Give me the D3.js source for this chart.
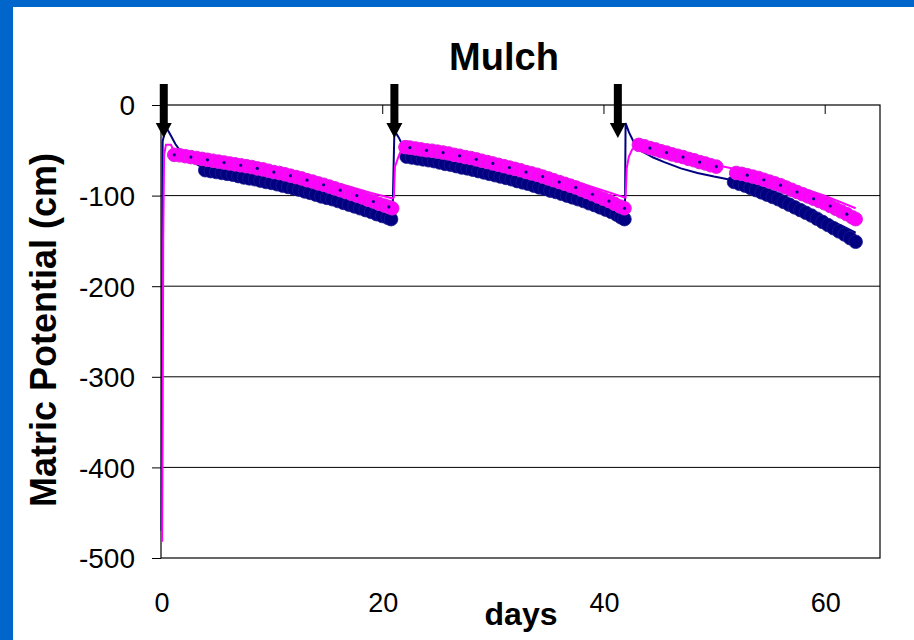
<!DOCTYPE html>
<html>
<head>
<meta charset="utf-8">
<script src="https://cdn.jsdelivr.net/npm/d3@7"></script>
<style>
  html, body { margin: 0; padding: 0; background: #fff; }
  svg { display: block; }
  text { font-family: "Liberation Sans", Arial, sans-serif; fill: #000; }
</style>
</head>
<body>
<svg id="chart" width="914" height="640"></svg>
<script>
// ---- data: matric potential (cm) against days, two sensors ----
const title = "Mulch";
const xLabel = "days";
const yLabel = "Matric Potential (cm)";
const xTicks = [0, 20, 40, 60];
const yTicks = [0, -100, -200, -300, -400, -500];
const irrigationDays = [0.25, 21.1, 41.3];

// continuous logger trace, navy sensor
const navyTrace = [
  [0.05,-470],[0.1,-250],[0.15,-40],[0.45,-24],[0.9,-34],[1.3,-43],[1.7,-50],[2.5,-58],[3.3,-66],
  [4,-71],[6,-75],[8,-80],[10,-85],[12,-91],[14,-98],[16,-105],[18,-113],[20.8,-125],
  [20.95,-110],[21.1,-28],[21.5,-36],[21.9,-46],[22.3,-55],[24.6,-61],[27.6,-69],[30.6,-78],
  [33.6,-88],[36.6,-99],[39.6,-112],[41.9,-125],
  [41.95,-110],[42.0,-20],[42.3,-30],[42.7,-40],[43.3,-50],[44.5,-58],[45.5,-63],[47,-70],[48.5,-75],
  [50,-79],[51.7,-83],[54,-92],[56,-102],[58,-113],[60,-125],[61.5,-133],[62.8,-141]
];

// daily-averaged readings, navy sensor
const navyReadings = [
  [4,-72],[4.5,-73],[5,-74],[5.5,-75],[6,-76],[6.5,-77],[7,-78.5],[7.5,-80],[8,-81],[8.5,-82],
  [9,-83.5],[9.5,-85],[10,-86],[10.5,-87.5],[11,-89],[11.5,-90.5],[12,-92],[12.5,-93.5],[13,-95.5],
  [13.5,-97],[14,-99],[14.5,-101],[15,-102.5],[15.5,-104],[16,-106],[16.5,-108],[17,-110],
  [17.5,-112],[18,-114],[18.5,-116],[19,-118],[19.5,-120.5],[20,-122.5],[20.5,-124.5],[20.8,-126],
  [22.2,-57],[22.7,-58],[23.2,-59],[23.7,-60],[24.2,-61],[24.7,-62],[25.2,-63.5],[25.7,-65],
  [26.2,-66],[26.7,-67.5],[27.2,-69],[27.7,-70],[28.2,-71.5],[28.7,-73],[29.2,-74.5],[29.7,-76],
  [30.2,-77.5],[30.7,-79],[31.2,-80.5],[31.7,-82],[32.2,-84],[32.7,-85.5],[33.2,-87],[33.7,-89],
  [34.2,-91],[34.7,-92.5],[35.2,-94.5],[35.7,-96],[36.2,-98],[36.7,-100],[37.2,-102],[37.7,-104],
  [38.2,-106],[38.7,-108.5],[39.2,-110.5],[39.7,-113],[40.2,-115.5],[40.7,-118],[41.2,-121],
  [41.6,-124],[41.9,-126],
  [51.8,-85],[52.3,-87],[52.8,-89],[53.3,-91.5],[53.8,-94],[54.3,-96.5],[54.8,-99],[55.3,-101.5],
  [55.8,-104],[56.3,-107],[56.8,-110],[57.3,-113],[57.8,-116],[58.3,-119],[58.8,-122],[59.3,-125.5],
  [59.8,-129],[60.3,-132.5],[60.8,-136],[61.3,-139.5],[61.8,-143],[62.3,-147],[62.8,-151]
];

// continuous logger trace, magenta sensor
const magentaTrace = [
  [0.1,-482],[0.15,-350],[0.2,-150],[0.28,-55],[0.45,-44],[0.9,-44],[1.2,-52],[3,-55],[5,-58],
  [8,-64],[11,-71],[14,-80],[17,-90],[19,-97],[20.9,-103],
  [21.05,-102],[21.15,-68],[21.5,-56],[21.9,-45],[22.3,-44],[25.4,-49],[28.4,-56],[31.4,-64],
  [34.4,-73],[37.4,-84],[39.9,-94],[41.9,-102],
  [42.0,-102],[42.1,-70],[42.3,-57],[42.6,-49],[43.1,-45],[45,-49],[47,-55],[49,-61],[50.5,-67],
  [52,-71],[55,-80],[57.5,-90],[60,-100],[62.8,-114]
];

// daily-averaged readings, magenta sensor
const magentaReadings = [
  [1.2,-55],[1.7,-55.5],[2.2,-56.5],[2.7,-57.5],[3.2,-58.5],[3.7,-59.5],[4.2,-60.5],[4.7,-61.5],
  [5.2,-62.5],[5.7,-63.5],[6.2,-64.5],[6.7,-65.5],[7.2,-66.5],[7.7,-67.5],[8.2,-68.5],[8.7,-70],
  [9.2,-71],[9.7,-72.5],[10.2,-74],[10.7,-75],[11.2,-76.5],[11.7,-78],[12.2,-79.5],[12.7,-81],
  [13.2,-83],[13.7,-84.5],[14.2,-86.5],[14.7,-88],[15.2,-90],[15.7,-92],[16.2,-94],[16.7,-96],
  [17.2,-98],[17.7,-100],[18.2,-102],[18.7,-104.5],[19.2,-106.5],[19.7,-109],[20.2,-111],
  [20.6,-112.5],[20.9,-114],
  [22.1,-46.5],[22.5,-47],[23,-48],[23.5,-49],[24,-50],[24.5,-50.5],[25,-51.5],[25.5,-52.5],
  [26,-53.5],[26.5,-55],[27,-56],[27.5,-57.5],[28,-58.5],[28.5,-60],[29,-61.5],[29.5,-63],
  [30,-64.5],[30.5,-66],[31,-67.5],[31.5,-69],[32,-70.5],[32.5,-72],[33,-74],[33.5,-75.5],[34,-77],
  [34.5,-79],[35,-81],[35.5,-83],[36,-85],[36.5,-87],[37,-89],[37.5,-91],[38,-93.5],[38.5,-96],
  [39,-98.5],[39.5,-101],[40,-103.5],[40.5,-106],[41,-109],[41.5,-112],[41.9,-114],
  [43.2,-44],[43.7,-45.5],[44.2,-47.5],[44.7,-49],[45.2,-51],[45.7,-52.5],[46.2,-54.5],[46.7,-56],
  [47.2,-57.5],[47.7,-59.5],[48.2,-61],[48.7,-63],[49.2,-64.5],[49.7,-66.5],[50.2,-68],
  [52,-75],[52.5,-76],[53,-77.5],[53.5,-79],[54,-80.5],[54.5,-82.5],[55,-84.5],[55.5,-86.5],
  [56,-88.5],[56.5,-91],[57,-93.5],[57.5,-96],[58,-98.5],[58.5,-101],[59,-103.5],[59.5,-106],
  [60,-108.5],[60.5,-111.5],[61,-114.5],[61.5,-117.5],[62,-120.5],[62.5,-124],[62.8,-126]
];

// ---- layout ----
const W = 914, H = 640;
const plot = { left: 161, right: 880, top: 105, bottom: 558 };
const NAVY = "#000080", MAGENTA = "#FF00FF", FRAME = "#0066CC";

const svg = d3.select("#chart");

// slide frame
svg.append("rect").attr("x", 0).attr("y", 0).attr("width", W).attr("height", 7).attr("fill", FRAME);
svg.append("rect").attr("x", 0).attr("y", 0).attr("width", 13).attr("height", H).attr("fill", FRAME);

const x = d3.scaleLinear().domain([0, 65]).range([plot.left, plot.right]);
const y = d3.scaleLinear().domain([-500, 0]).range([plot.bottom, plot.top]);

// horizontal gridlines
svg.append("g")
  .selectAll("line")
  .data(yTicks.filter(v => v !== 0 && v !== -500))
  .join("line")
  .attr("x1", plot.left).attr("x2", plot.right)
  .attr("y1", d => y(d)).attr("y2", d => y(d))
  .attr("stroke", "#000").attr("stroke-width", 1);

// plot frame
svg.append("rect")
  .attr("x", plot.left).attr("y", plot.top)
  .attr("width", plot.right - plot.left).attr("height", plot.bottom - plot.top)
  .attr("fill", "none").attr("stroke", "#000").attr("stroke-width", 1.2);

// y axis: outside ticks with labels (plain hyphen for the minus sign)
const yAxis = d3.axisLeft(y).tickValues(yTicks).tickSize(9).tickPadding(17).tickFormat(d => String(d));
const gy = svg.append("g").attr("transform", `translate(${plot.left},0)`).call(yAxis);
gy.select(".domain").remove();
gy.selectAll("line").attr("stroke", "#000");
gy.selectAll("text").attr("font-size", 28).attr("dy", "0.35em");

// x axis sits on the zero line: ticks point down from the top edge, labels below the plot
const xAxisTop = d3.axisBottom(x).tickValues(xTicks).tickSize(9).tickFormat("");
const gx = svg.append("g").attr("transform", `translate(0,${y(0)})`).call(xAxisTop);
gx.select(".domain").remove();
gx.selectAll("line").attr("stroke", "#000");

svg.append("g")
  .selectAll("text")
  .data(xTicks)
  .join("text")
  .attr("x", d => x(d) + 1)
  .attr("y", 612)
  .attr("text-anchor", "middle")
  .attr("font-size", 27)
  .text(d => d);

// series
const line = d3.line().x(d => x(d[0])).y(d => y(d[1]));

svg.append("path").datum(navyTrace).attr("d", line)
  .attr("fill", "none").attr("stroke", NAVY).attr("stroke-width", 2);

svg.append("g").selectAll("circle").data(navyReadings).join("circle")
  .attr("cx", d => x(d[0])).attr("cy", d => y(d[1])).attr("r", 6.8)
  .attr("fill", NAVY).attr("stroke", "#1b1b96").attr("stroke-width", 0.8);

svg.append("path").datum(magentaTrace).attr("d", line)
  .attr("fill", "none").attr("stroke", MAGENTA).attr("stroke-width", 2);

svg.append("g").selectAll("circle").data(magentaReadings).join("circle")
  .attr("cx", d => x(d[0])).attr("cy", d => y(d[1])).attr("r", 6.8)
  .attr("fill", MAGENTA).attr("stroke", "#E020E0").attr("stroke-width", 1);

// dark centre points on the magenta readings
svg.append("g").selectAll("circle").data(magentaReadings.filter((d, i) => i % 3 === 0)).join("circle")
  .attr("cx", d => x(d[0])).attr("cy", d => y(d[1])).attr("r", 1.6)
  .attr("fill", NAVY);

// irrigation arrows
const arrow = svg.append("g");
irrigationDays.forEach(day => {
  const cx = x(day);
  arrow.append("rect").attr("x", cx - 4).attr("y", 84).attr("width", 8).attr("height", 40).attr("fill", "#000");
  arrow.append("path")
    .attr("d", `M${cx - 8},123 L${cx + 8},123 L${cx},138 Z`)
    .attr("fill", "#000");
});

// titles
svg.append("text").attr("x", 504).attr("y", 70).attr("text-anchor", "middle")
  .attr("font-size", 38).attr("font-weight", "bold").text(title);

svg.append("text").attr("x", 521).attr("y", 625).attr("text-anchor", "middle")
  .attr("font-size", 32).attr("font-weight", "bold").text(xLabel);

svg.append("text")
  .attr("transform", "translate(56,330) rotate(-90)")
  .attr("text-anchor", "middle")
  .attr("font-size", 36).attr("font-weight", "bold").text(yLabel);
</script>
</body>
</html>
